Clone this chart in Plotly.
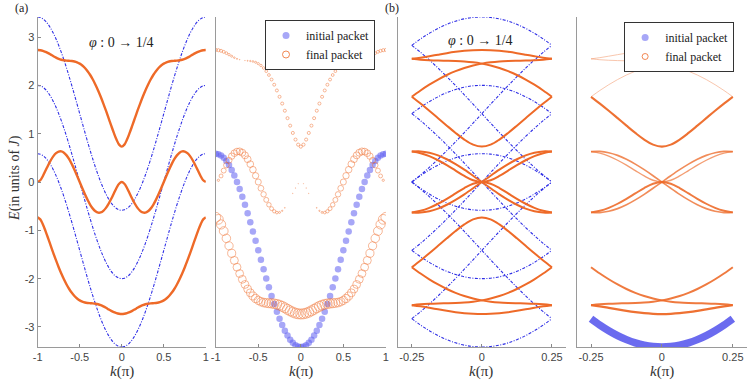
import plotly.graph_objects as go

# ---------------- data ----------------
# momentum grid for k >= 0 (units of pi); negative side is the mirror image
K_HALF = [0.0, 0.03125, 0.0625, 0.09375, 0.125, 0.15625, 0.1875, 0.21875, 0.25,
          0.28125, 0.3125, 0.34375, 0.375, 0.40625, 0.4375, 0.46875, 0.5,
          0.53125, 0.5625, 0.59375, 0.625, 0.65625, 0.6875, 0.71875, 0.75,
          0.78125, 0.8125, 0.84375, 0.875, 0.90625, 0.9375, 0.96875, 1.0]

# phi = 0 : base dispersion and the three transverse offsets (blue)
BLUE_BASE_HALF = [-2.000, -1.990, -1.962, -1.914, -1.848, -1.764, -1.663, -1.546, -1.414,
                  -1.269, -1.111, -0.943, -0.765, -0.581, -0.390, -0.196, 0.000,
                  0.196, 0.390, 0.581, 0.765, 0.943, 1.111, 1.269, 1.414,
                  1.546, 1.663, 1.764, 1.848, 1.914, 1.962, 1.990, 2.000]
BLUE_OFFSETS = [-1.414, 0.0, 1.414]

# phi = 1/4 : three bands (orange)
E1_HALF = [-2.732, -2.727, -2.714, -2.693, -2.666, -2.635, -2.603, -2.573, -2.548,
           -2.530, -2.519, -2.512, -2.508, -2.503, -2.494, -2.477, -2.449,
           -2.411, -2.359, -2.293, -2.214, -2.120, -2.013, -1.894, -1.763,
           -1.623, -1.475, -1.321, -1.166, -1.015, -0.878, -0.773, -0.732]
E2_HALF = [0.000, -0.036, -0.125, -0.236, -0.348, -0.450, -0.535, -0.596, -0.629,
           -0.633, -0.606, -0.551, -0.471, -0.370, -0.255, -0.130, 0.000,
           0.130, 0.255, 0.370, 0.471, 0.551, 0.606, 0.633, 0.629,
           0.596, 0.535, 0.450, 0.348, 0.236, 0.125, 0.036, 0.000]
E3_HALF = [0.732, 0.773, 0.878, 1.015, 1.166, 1.321, 1.475, 1.623, 1.763,
           1.894, 2.013, 2.120, 2.214, 2.293, 2.359, 2.411, 2.449,
           2.477, 2.494, 2.503, 2.508, 2.512, 2.519, 2.530, 2.548,
           2.573, 2.603, 2.635, 2.666, 2.693, 2.714, 2.727, 2.732]

# weight of the final packet in each band (panel a, right)
W1_HALF = [0.908, 0.909, 0.911, 0.913, 0.914, 0.914, 0.910, 0.900, 0.882,
           0.855, 0.822, 0.784, 0.745, 0.709, 0.675, 0.646, 0.622,
           0.602, 0.586, 0.574, 0.566, 0.561, 0.559, 0.561, 0.567,
           0.578, 0.594, 0.619, 0.654, 0.705, 0.776, 0.862, 0.908]
W2_HALF = [0.000, 0.001, 0.002, 0.002, 0.000, 0.000, 0.005, 0.015, 0.035,
           0.063, 0.099, 0.140, 0.183, 0.225, 0.264, 0.301, 0.333,
           0.362, 0.388, 0.409, 0.426, 0.437, 0.441, 0.436, 0.422,
           0.400, 0.369, 0.330, 0.281, 0.219, 0.139, 0.048, 0.000]
W3_HALF = [0.092, 0.090, 0.087, 0.086, 0.085, 0.085, 0.085, 0.085, 0.084,
           0.082, 0.079, 0.076, 0.072, 0.067, 0.060, 0.053, 0.045,
           0.036, 0.026, 0.016, 0.008, 0.002, 0.000, 0.003, 0.011,
           0.023, 0.037, 0.052, 0.065, 0.077, 0.085, 0.090, 0.092]

# relative weight of the final packet on each folded branch (panel b, right)
FOLD_SHIFTS = [-1, 0, 1, 2]
FOLD_WEIGHTS = {  # (band, shift) -> relative weight
    (0, -1): 0.45, (0, 0): 0.55, (0, 1): 0.45, (0, 2): 0.0,
    (1, -1): 0.35, (1, 0): 0.45, (1, 1): 0.35, (1, 2): 0.25,
    (2, -1): 0.08, (2, 0): 0.5, (2, 1): 0.08, (2, 2): 0.08,
}

TICKS_A = [-1, -0.5, 0, 0.5, 1]
TICKTEXT_A = ["-1", "-0.5", "0", "0.5", "1"]
TICKS_B = [-0.25, 0, 0.25]
TICKTEXT_B = ["-0.25", "0", "0.25"]
TICKS_E = [-3, -2, -1, 0, 1, 2, 3]
TICKTEXT_E = ["-3", "-2", "-1", "0", "1", "2", "3"]

# ---------------- helpers ----------------
def mirror(half, sign=1):
    return [sign * v for v in half[:0:-1]] + list(half)

K_FULL = mirror(K_HALF, -1)
BASE_FULL = mirror(BLUE_BASE_HALF)
BANDS = [mirror(E1_HALF), mirror(E2_HALF), mirror(E3_HALF)]
WEIGHTS = [mirror(W1_HALF), mirror(W2_HALF), mirror(W3_HALF)]
NH = len(K_HALF) - 1          # index of k = 0 in the full arrays
QUARTER = NH // 4             # number of grid steps in k = 0.25

def fold(values, m):
    out = []
    for j in range(-QUARTER, QUARTER + 1):
        n = j + 2 * QUARTER * m
        if n > NH:
            n -= 2 * NH
        out.append(values[n + NH])
    return out

K_RED = K_FULL[NH - QUARTER: NH + QUARTER + 1]

ORANGE = "#EE6A28"
BLUE = "#2f2fe6"
SERIF = "Liberation Serif"
BLUE_DASH = "3px,1.5px,1px,1.5px"

fig = go.Figure()

# ---- panel (a) left
for c in BLUE_OFFSETS:
    fig.add_trace(go.Scatter(x=K_FULL, y=[b + c for b in BASE_FULL], mode="lines",
                             line=dict(color=BLUE, width=1.1, dash=BLUE_DASH, shape="spline"),
                             showlegend=False, xaxis="x", yaxis="y"))
for band in BANDS:
    fig.add_trace(go.Scatter(x=K_FULL, y=band, mode="lines",
                             line=dict(color=ORANGE, width=2.4, shape="spline"),
                             showlegend=False, xaxis="x", yaxis="y"))

# ---- panel (a) right
fig.add_trace(go.Scatter(x=K_FULL, y=[b + BLUE_OFFSETS[0] for b in BASE_FULL], mode="markers",
                         marker=dict(color="rgba(95,95,240,0.55)", size=6.5, line=dict(width=0)),
                         showlegend=False, xaxis="x2", yaxis="y2"))
for band, w in zip(BANDS, WEIGHTS):
    fig.add_trace(go.Scatter(x=K_FULL, y=band, mode="markers",
                             marker=dict(symbol="circle-open", color=ORANGE, size=w, sizemode="area",
                                         sizeref=2.0 / 10.5 ** 2, line=dict(width=0.8)),
                             opacity=0.85, showlegend=False, xaxis="x2", yaxis="y2"))
# legend entries (a)
fig.add_trace(go.Scatter(x=[None], y=[None], mode="markers", name="initial packet",
                         marker=dict(color="rgba(95,95,240,0.55)", size=7), legend="legend",
                         xaxis="x2", yaxis="y2"))
fig.add_trace(go.Scatter(x=[None], y=[None], mode="markers", name="final packet",
                         marker=dict(symbol="circle-open", color=ORANGE, size=7, line=dict(width=0.8)),
                         legend="legend", xaxis="x2", yaxis="y2"))

# ---- panel (b) left
for c in BLUE_OFFSETS:
    base = [b + c for b in BASE_FULL]
    for m in FOLD_SHIFTS:
        fig.add_trace(go.Scatter(x=K_RED, y=fold(base, m), mode="lines",
                                 line=dict(color=BLUE, width=1.1, dash=BLUE_DASH, shape="spline"),
                                 showlegend=False, xaxis="x3", yaxis="y3"))
for band in BANDS:
    for m in FOLD_SHIFTS:
        fig.add_trace(go.Scatter(x=K_RED, y=fold(band, m), mode="lines",
                                 line=dict(color=ORANGE, width=2.0, shape="spline"),
                                 showlegend=False, xaxis="x3", yaxis="y3"))

# ---- panel (b) right
for bi, band in enumerate(BANDS):
    for m in FOLD_SHIFTS:
        wgt = FOLD_WEIGHTS[(bi, m)]
        if wgt <= 0:
            continue
        fig.add_trace(go.Scatter(x=K_RED, y=fold(band, m), mode="lines",
                                 line=dict(color=ORANGE, width=0.6 + 3.0 * wgt, shape="spline"),
                                 opacity=0.35 + 0.6 * min(1, wgt * 2),
                                 showlegend=False, xaxis="x4", yaxis="y4"))
fig.add_trace(go.Scatter(x=K_RED, y=fold([b + BLUE_OFFSETS[0] for b in BASE_FULL], 0), mode="lines",
                         line=dict(color="rgba(70,70,235,0.8)", width=7.5, shape="spline"),
                         showlegend=False, xaxis="x4", yaxis="y4"))
fig.add_trace(go.Scatter(x=[None], y=[None], mode="markers", name="initial packet",
                         marker=dict(color="rgba(95,95,240,0.55)", size=7), legend="legend2",
                         xaxis="x4", yaxis="y4"))
fig.add_trace(go.Scatter(x=[None], y=[None], mode="markers", name="final packet",
                         marker=dict(symbol="circle-open", color=ORANGE, size=6, line=dict(width=0.8)),
                         legend="legend2", xaxis="x4", yaxis="y4"))

# ---------------- layout ----------------
W, H = 750, 381

def px(x):
    return x / W

def py(y):
    return 1 - y / H

tickfont = dict(family="Liberation Sans", size=11, color="#444")

def xax(x0, x1, rng, tv, tt, anchor):
    return dict(domain=[px(x0), min(1.0, px(x1))], range=rng, tickvals=tv, ticktext=tt, ticks="inside",
                ticklen=3, tickcolor="#888", showline=True, linecolor="#9a9a9a", linewidth=1,
                showgrid=False, zeroline=False, tickfont=tickfont, fixedrange=True, anchor=anchor)

def yax(show_labels, anchor):
    d = dict(domain=[py(347), py(17)], range=[-3.414, 3.414], showgrid=False, zeroline=False,
             showline=True, linecolor="#9a9a9a", linewidth=1, anchor=anchor, fixedrange=True)
    if show_labels:
        d.update(tickvals=TICKS_E, ticktext=TICKTEXT_E, ticks="inside", ticklen=3, tickcolor="#888",
                 tickfont=tickfont)
    else:
        d.update(showticklabels=False, ticks="")
    return d

leg = dict(bgcolor="white", bordercolor="#333", borderwidth=1, font=dict(family=SERIF, size=12, color="#222"),
           itemwidth=30, tracegroupgap=0, xanchor="right", yanchor="top")

annotations = []
def note(text, x, y, size, angle=0, color="#222"):
    annotations.append(dict(text=text, x=px(x), y=py(y), xref="paper", yref="paper", showarrow=False,
                            xanchor="center", yanchor="middle", textangle=angle,
                            font=dict(family=SERIF, size=size, color=color)))

note("(a)", 17, 8, 12)
note("(b)", 391, 8, 12)
note("<i>φ</i> : 0 → 1/4", 118, 42, 14)
note("<i>φ</i> : 0 → 1/4", 481, 40, 14)
for xc in [118, 299, 481, 664]:
    note("<i>k</i>(π)", xc, 371, 15, color="#333")
note("<i>E</i>(in units of <i>J</i>)", 10, 178, 14, angle=-90, color="#333")

fig.update_layout(
    width=W, height=H, margin=dict(l=0, r=0, t=0, b=0),
    paper_bgcolor="white", plot_bgcolor="white", hovermode=False,
    xaxis=xax(33, 203, [-1, 1], TICKS_A, TICKTEXT_A, "y"),
    xaxis2=xax(213, 385, [-1, 1], TICKS_A, TICKTEXT_A, "y2"),
    xaxis3=xax(397, 567, [-0.3, 0.3], TICKS_B, TICKTEXT_B, "y3"),
    xaxis4=xax(578, 750, [-0.3, 0.3], TICKS_B, TICKTEXT_B, "y4"),
    yaxis=yax(True, "x"), yaxis2=yax(False, "x2"), yaxis3=yax(False, "x3"), yaxis4=yax(False, "x4"),
    legend=dict(leg, x=px(374), y=py(20)),
    legend2=dict(leg, x=px(737), y=py(22)),
    annotations=annotations,
)

# remove the default 8 px page margin so the figure fills the window exactly
fig.write_html("out.html", config={"displayModeBar": False},
               post_script="document.body.style.margin='0px';")
